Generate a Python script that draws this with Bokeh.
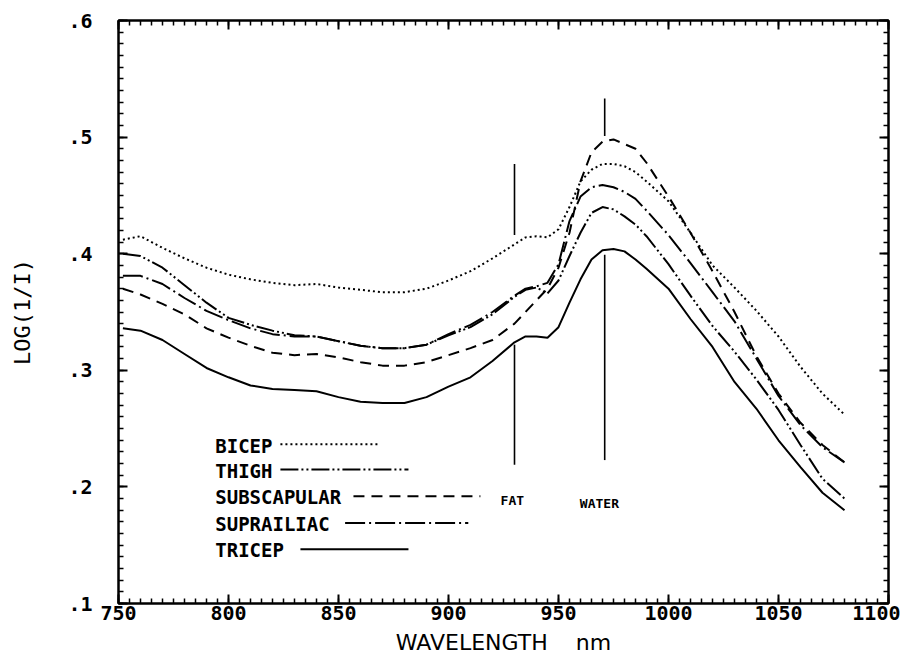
from bokeh.plotting import figure
from bokeh.models import FixedTicker, LinearAxis, CustomJSTickFormatter, Range1d
from bokeh.embed import file_html
from bokeh.resources import INLINE
from bokeh.core.properties import value

# ---------------- data ----------------
wavelength = [752, 760, 770, 780, 790, 800, 810, 820, 830, 840, 850, 860, 870, 880,
              890, 900, 910, 920, 930, 935, 940, 945, 950, 955, 960, 965, 970, 975,
              980, 985, 990, 1000, 1010, 1020, 1030, 1040, 1050, 1060, 1070, 1080]

bicep = [0.412, 0.415, 0.405, 0.396, 0.388, 0.382, 0.378, 0.375, 0.373, 0.374, 0.371,
         0.369, 0.367, 0.367, 0.370, 0.377, 0.385, 0.396, 0.408, 0.414, 0.415, 0.414,
         0.421, 0.440, 0.462, 0.472, 0.477, 0.477, 0.475, 0.470, 0.462, 0.445, 0.418,
         0.390, 0.371, 0.351, 0.329, 0.303, 0.280, 0.262]

thigh = [0.400, 0.398, 0.388, 0.373, 0.358, 0.345, 0.339, 0.334, 0.330, 0.329, 0.325,
         0.321, 0.319, 0.319, 0.322, 0.330, 0.337, 0.348, 0.363, 0.369, 0.371, 0.366,
         0.377, 0.398, 0.418, 0.435, 0.440, 0.438, 0.432, 0.425, 0.415, 0.391, 0.364,
         0.338, 0.316, 0.292, 0.266, 0.236, 0.207, 0.190]

subscapular = [0.370, 0.365, 0.357, 0.348, 0.336, 0.328, 0.321, 0.315, 0.313, 0.314, 0.311,
               0.307, 0.304, 0.304, 0.307, 0.313, 0.319, 0.326, 0.340, 0.350, 0.360, 0.370,
               0.388, 0.418, 0.462, 0.487, 0.496, 0.498, 0.494, 0.490, 0.478, 0.449, 0.418,
               0.385, 0.350, 0.312, 0.280, 0.255, 0.236, 0.221]

suprailiac = [0.381, 0.381, 0.374, 0.362, 0.351, 0.343, 0.336, 0.331, 0.329, 0.329, 0.325,
              0.321, 0.319, 0.319, 0.322, 0.331, 0.339, 0.350, 0.364, 0.370, 0.372, 0.375,
              0.391, 0.428, 0.449, 0.457, 0.459, 0.457, 0.453, 0.447, 0.437, 0.416, 0.392,
              0.367, 0.342, 0.310, 0.278, 0.253, 0.234, 0.221]

tricep = [0.336, 0.334, 0.326, 0.314, 0.302, 0.294, 0.287, 0.284, 0.283, 0.282, 0.277,
          0.273, 0.272, 0.272, 0.277, 0.286, 0.294, 0.308, 0.324, 0.329, 0.329, 0.328,
          0.337, 0.358, 0.378, 0.395, 0.403, 0.404, 0.402, 0.395, 0.387, 0.370, 0.344,
          0.320, 0.290, 0.267, 0.240, 0.217, 0.195, 0.180]

series_names = ["BICEP", "THIGH", "SUBSCAPULAR", "SUPRAILIAC", "TRICEP"]
series_values = [bicep, thigh, subscapular, suprailiac, tricep]

x_ticks = [750, 800, 850, 900, 950, 1000, 1050, 1100]
y_ticks = [0.1, 0.2, 0.3, 0.4, 0.5, 0.6]

# absorption band markers
band_names = ["FAT", "WATER"]
band_nm = [930, 971]
band_upper = [(0.416, 0.477), (0.501, 0.533)]
band_lower = [(0.219, 0.322), (0.223, 0.399)]

# ---------------- styles / layout ----------------
dashes = ["2 3", "18 3 2 3 2 3", "11 7", "20 4 2 4", "solid"]
TICK_FONT = "DejaVu Sans Mono"
NBSP = "\u00a0"

p = figure(frame_width=770, frame_height=583, output_backend="svg", toolbar_location=None,
           x_range=Range1d(750, 1100), y_range=Range1d(0.1, 0.6),
           min_border_left=118, min_border_top=20, min_border_right=12, min_border_bottom=30)
p.xgrid.visible = False
p.ygrid.visible = False
p.outline_line_color = "black"
p.outline_line_width = 2
p.background_fill_color = "white"
p.border_fill_color = "white"

xt = FixedTicker(ticks=x_ticks, minor_ticks=list(range(750, 1101, 5)))
yt = FixedTicker(ticks=y_ticks, minor_ticks=[round(0.1 + 0.01 * i, 2) for i in range(51)])


def style_axis(ax):
    ax.axis_line_width = 2
    ax.major_tick_line_width = 2
    ax.minor_tick_line_width = 1.5
    ax.major_tick_in = 9
    ax.major_tick_out = 0
    ax.minor_tick_in = 5
    ax.minor_tick_out = 0
    ax.major_label_text_font = TICK_FONT
    ax.major_label_text_font_style = "bold"
    ax.major_label_text_font_size = "20px"
    ax.major_label_text_color = "black"


xa = p.xaxis[0]
xa.ticker = xt
style_axis(xa)
xa.major_label_standoff = 2
xa.axis_label = "WAVELENGTH" + NBSP * 4 + "nm"
xa.axis_label_text_font = "DejaVu Sans"
xa.axis_label_text_font_style = "normal"
xa.axis_label_text_font_size = "22px"
xa.axis_label_text_color = "black"
xa.axis_label_standoff = 7

ya = p.yaxis[0]
ya.ticker = yt
style_axis(ya)
ya.major_label_standoff = 26
ya.formatter = CustomJSTickFormatter(code="return tick.toFixed(1).replace(/^0/, '');")
ya.axis_label = "LOG(1/I)"
ya.axis_label_text_font = TICK_FONT
ya.axis_label_text_font_style = "normal"
ya.axis_label_text_font_size = "22px"
ya.axis_label_text_color = "black"
ya.axis_label_standoff = 30

for side, tick in (("above", xt), ("right", yt)):
    ax = LinearAxis(ticker=tick)
    style_axis(ax)
    ax.formatter = CustomJSTickFormatter(code="return '';")
    ax.major_label_standoff = 0
    p.add_layout(ax, side)

# curves
for name, vals, dash in zip(series_names, series_values, dashes):
    p.line(wavelength, vals, line_color="black", line_width=2, line_dash=dash)

# band marker lines
for nm, (a0, a1), (b0, b1) in zip(band_nm, band_upper, band_lower):
    p.segment(x0=[nm, nm], y0=[a0, b0], x1=[nm, nm], y1=[a1, b1],
              line_color="black", line_width=1.6)

p.text(x=[929, 968.6], y=[0.188, 0.186], text=band_names, text_font=value(TICK_FONT),
       text_font_style="bold", text_font_size="13px", text_align="center",
       text_baseline="middle", text_color="black")

# legend (text first, then line sample)
leg_x = 794
leg_y = [0.2355, 0.214, 0.191, 0.168, 0.1455]
leg_line = [(823.6, 868), (823.6, 881.8), (856.8, 914.5), (853, 909), (832.7, 881.8)]
p.text(x=[leg_x] * 5, y=leg_y, text=series_names, text_font=value(TICK_FONT),
       text_font_style="bold", text_font_size="19px", text_align="left",
       text_baseline="middle", text_color="black")
for (x0, x1), yy, dash in zip(leg_line, leg_y, dashes):
    p.line([x0, x1], [yy + 0.001, yy + 0.001], line_color="black", line_width=2,
           line_dash=dash)

open("out.html", "w").write(file_html(p, INLINE))
